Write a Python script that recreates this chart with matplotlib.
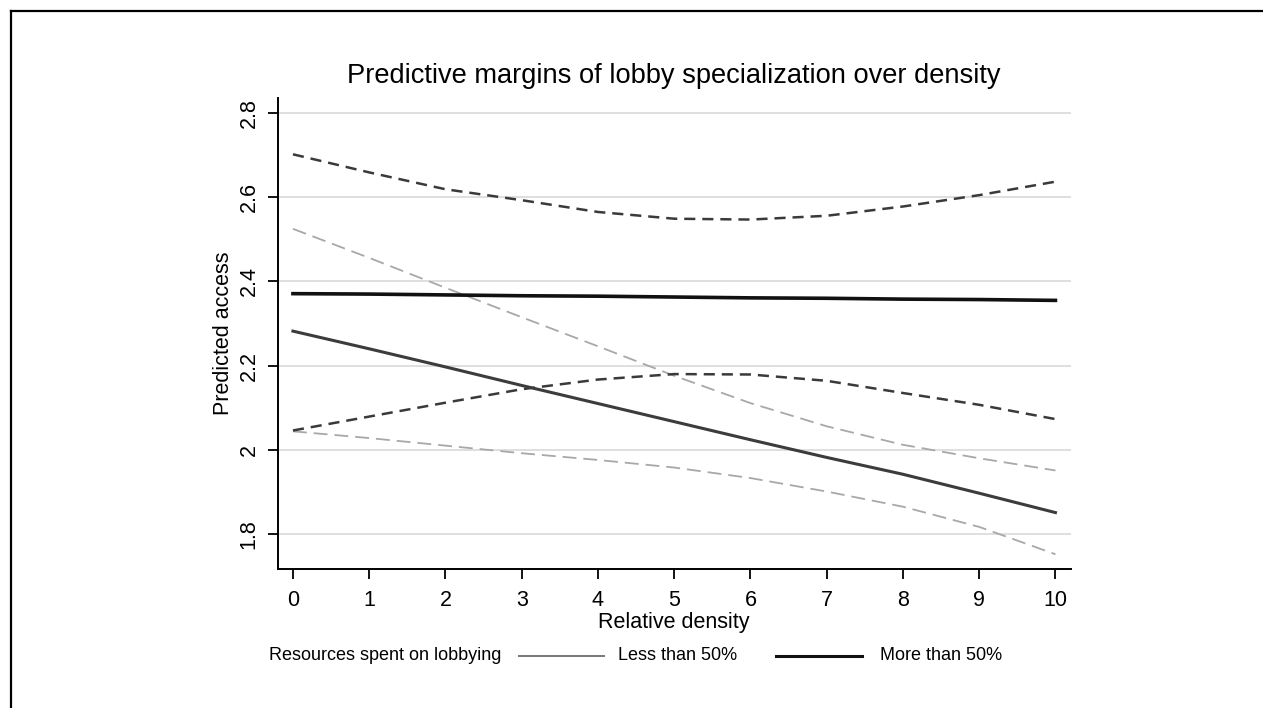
import numpy as np
import matplotlib
matplotlib.use("Agg")
import matplotlib.pyplot as plt
from matplotlib.lines import Line2D

plt.rcParams['font.family'] = ['Liberation Sans', 'DejaVu Sans']
plt.rcParams['lines.scale_dashes'] = False

density = [0, 1, 2, 3, 4, 5, 6, 7, 8, 9, 10]

# Less than 50% of resources spent on lobbying
low_margin = [2.282, 2.240, 2.197, 2.153, 2.110, 2.067, 2.024, 1.982, 1.942, 1.897, 1.851]
low_upper = [2.525, 2.456, 2.385, 2.315, 2.246, 2.176, 2.111, 2.056, 2.012, 1.980, 1.951]
low_lower = [2.044, 2.028, 2.010, 1.992, 1.976, 1.958, 1.933, 1.901, 1.865, 1.817, 1.752]

# More than 50%
high_margin = [2.371, 2.370, 2.368, 2.366, 2.365, 2.363, 2.361, 2.360, 2.358, 2.357, 2.355]
high_upper = [2.702, 2.659, 2.619, 2.593, 2.565, 2.549, 2.547, 2.556, 2.578, 2.605, 2.637]
high_lower = [2.046, 2.079, 2.112, 2.144, 2.167, 2.180, 2.179, 2.164, 2.135, 2.107, 2.073]

y_ticks = [1.8, 2.0, 2.2, 2.4, 2.6, 2.8]
y_tick_labels = ['1.8', '2', '2.2', '2.4', '2.6', '2.8']


def main():
    W, H = 1263, 708
    fig = plt.figure(figsize=(W / 100, H / 100), dpi=100)
    fig.patch.set_facecolor('white')

    left, right, top, bottom = 277.7, 1070.7, 98.3, 569
    ax = fig.add_axes([left / W, 1 - bottom / H, (right - left) / W, (bottom - top) / H])

    # confidence bands
    ax.plot(density, low_upper, color='#a8a8a8', lw=1.3, dashes=(10, 5))
    ax.plot(density, low_lower, color='#a8a8a8', lw=1.3, dashes=(10, 5))
    ax.plot(density, high_upper, color='#3a3a3a', lw=1.8, dashes=(8, 5))
    ax.plot(density, high_lower, color='#3a3a3a', lw=1.8, dashes=(8, 5))
    # margins
    ax.plot(density, low_margin, color='#3c3c3c', lw=2.2)
    ax.plot(density, high_margin, color='#111111', lw=2.6)

    ax.set_xlim(-0.2, 10.2)
    ax.set_ylim(1.717, 2.835)
    ax.set_xticks(density)
    ax.set_yticks(y_ticks)
    ax.set_yticklabels(y_tick_labels, rotation=90, va='center')
    ax.tick_params(axis='both', labelsize=15.5, length=7, width=1.3, direction='out')
    ax.tick_params(axis='x', pad=8)
    ax.tick_params(axis='y', pad=6)

    ax.grid(axis='y', color='#dcdcdc', lw=1.3)
    ax.set_axisbelow(True)
    for s in ['top', 'right']:
        ax.spines[s].set_visible(False)
    for s in ['left', 'bottom']:
        ax.spines[s].set_linewidth(1.4)

    ax.set_xlabel('Relative density', fontsize=15.5, labelpad=1)
    ax.set_ylabel('Predicted access', fontsize=15.5, labelpad=3)
    ax.set_title('Predictive margins of lobby specialization over density',
                 fontsize=19.6, pad=11)

    # legend row (Stata style)
    ly = 1 - 656 / H
    fig.text(269 / W, ly, 'Resources spent on lobbying', fontsize=13, ha='left', va='center')
    fig.add_artist(Line2D([519 / W, 604 / W], [ly, ly], color='#777777', lw=1.4))
    fig.text(618 / W, ly, 'Less than 50%', fontsize=13, ha='left', va='center')
    fig.add_artist(Line2D([776 / W, 862 / W], [ly, ly], color='#111111', lw=2.2))
    fig.text(880 / W, ly, 'More than 50%', fontsize=13, ha='left', va='center')

    # outer frame (left and top edges)
    fig.add_artist(Line2D([11 / W, 11 / W], [0, 1 - 11 / H], color='black', lw=1.6))
    fig.add_artist(Line2D([11 / W, 1], [1 - 11 / H, 1 - 11 / H], color='black', lw=1.6))

    fig.savefig('out.png', dpi=100)


if __name__ == "__main__":
    main()
